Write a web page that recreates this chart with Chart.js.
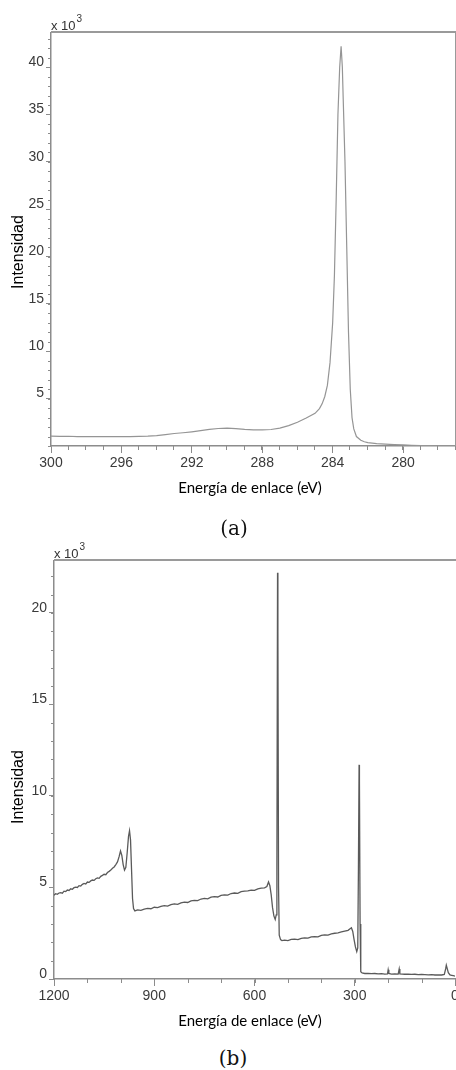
<!DOCTYPE html>
<html lang="es">
<head>
<meta charset="UTF-8">
<title>Espectros XPS</title>
<script src="https://cdn.jsdelivr.net/npm/chart.js"></script>
<style>
  body { margin: 0; background: #fff; }
  #page { position: relative; width: 456px; height: 1070px; overflow: hidden; background: #fff; }
  canvas { position: absolute; left: 0; }
  .caption { position: absolute; z-index: 2; font-family: "DejaVu Serif", serif; font-size: 20px; line-height: 24px; color: #111; transform: translateX(-50%); }
</style>
</head>
<body>
<div id="page">
  <canvas id="chartA" width="456" height="500" style="top:0"></canvas>
  <div class="caption" style="left:234px; top:516px">(a)</div>
  <canvas id="chartB" width="456" height="510" style="top:530px"></canvas>
  <div class="caption" style="left:233px; top:1046px">(b)</div>
</div>

<script>
    // (a) C 1s region - binding energy (eV) and intensity (x 10^3)
    const energyA = [300, 299.5, 299, 298.5, 298, 297.5, 297, 296.5, 296, 295.5, 295, 294.5, 294, 293.5, 293,
        292.5, 292, 291.5, 291, 290.5, 290, 289.5, 289, 288.5, 288, 287.5, 287, 286.5, 286, 285.5, 285,
        284.75, 284.6, 284.45, 284.3, 284.15, 284.0, 283.9, 283.8, 283.7, 283.6, 283.52, 283.45, 283.4, 283.3,
        283.2, 283.1, 283.0, 282.9, 282.8, 282.65, 282.4, 282.2, 282, 281.5, 281, 280.5, 280, 279.5, 279,
        278.5, 278, 277.5, 277];
    const countsA = [1.05, 1.02, 1.03, 1.0, 1.0, 0.98, 0.99, 0.98, 0.99, 1.0, 1.01, 1.04, 1.1, 1.2, 1.32,
        1.4, 1.5, 1.62, 1.75, 1.85, 1.88, 1.84, 1.76, 1.71, 1.7, 1.74, 1.88, 2.15, 2.5, 2.95, 3.45,
        3.95, 4.45, 5.2, 6.4, 8.8, 13, 18, 26, 35, 40, 42.2, 40, 36.6, 30,
        21, 12, 6, 3.0, 1.8, 1.0, 0.6, 0.45, 0.35, 0.25, 0.2, 0.15, 0.12, 0.08, 0.05,
        0.03, 0.02, 0.02, 0.02];

    // (b) survey spectrum
    const energyB = [1200, 1195, 1190, 1185, 1180, 1175, 1170, 1165, 1160, 1155, 1150, 1145, 1140, 1135, 1130,
        1125, 1120, 1115, 1110, 1105, 1100, 1095, 1090, 1085, 1080, 1075, 1070, 1065, 1060, 1055, 1050,
        1045, 1040, 1035, 1030, 1025, 1020, 1015, 1010, 1005, 1001, 997, 993, 989, 985, 981, 977, 974,
        971, 968, 965, 962, 958, 950, 940, 930, 920, 910, 900, 890, 880, 870, 860, 850, 840, 830, 820,
        810, 800, 790, 780, 770, 760, 750, 740, 730, 720, 710, 700, 690, 680, 670, 660, 650, 640, 630,
        620, 610, 600, 590, 580, 570, 563, 558, 554, 550, 546, 542, 538, 535, 533, 531, 530, 528, 526,
        522, 518, 510, 500, 490, 480, 470, 460, 450, 440, 430, 420, 410, 400, 390, 380, 370, 360, 350,
        340, 330, 320, 314, 310, 306, 302, 298, 294, 291, 289, 287, 286, 284, 282, 278, 270, 260, 250,
        240, 230, 220, 210, 202, 200, 198, 190, 180, 170, 167, 165, 150, 140, 130, 120, 110, 100, 90,
        80, 70, 60, 50, 40, 32, 28, 26, 23, 20, 15, 10, 5, 0];
    const countsB = [4.58, 4.66, 4.63, 4.70, 4.72, 4.69, 4.80, 4.78, 4.86, 4.84, 4.93, 4.90, 4.99, 5.02, 5.00,
        5.10, 5.08, 5.17, 5.22, 5.19, 5.30, 5.28, 5.36, 5.41, 5.39, 5.48, 5.52, 5.50, 5.61, 5.66, 5.72,
        5.70, 5.82, 5.88, 5.95, 6.05, 6.12, 6.25, 6.40, 6.70, 7.00, 6.75, 6.25, 5.95, 6.10, 6.90, 7.80, 8.10,
        7.60, 6.00, 4.40, 3.85, 3.72, 3.78, 3.75, 3.82, 3.86, 3.84, 3.92, 3.90, 3.97, 4.01, 3.98, 4.06, 4.10, 4.08, 4.16,
        4.20, 4.18, 4.27, 4.30, 4.28, 4.37, 4.40, 4.38, 4.47, 4.50, 4.48, 4.57, 4.60, 4.58, 4.67, 4.70, 4.68, 4.77, 4.80,
        4.82, 4.86, 4.84, 4.92, 4.96, 4.98, 5.05, 5.30, 5.10, 4.60, 3.90, 3.45, 3.25, 3.50, 6.0, 22.2, 19.0, 5.0, 2.40,
        2.15, 2.10, 2.12, 2.10, 2.16, 2.18, 2.15, 2.22, 2.25, 2.23, 2.30, 2.32, 2.30, 2.38, 2.41, 2.40, 2.47, 2.50, 2.52,
        2.57, 2.62, 2.66, 2.75, 2.80, 2.60, 2.15, 1.75, 1.50, 1.70, 6.0, 11.7, 10.8, 3.0, 0.40, 0.33, 0.30, 0.31, 0.29,
        0.30, 0.28, 0.29, 0.27, 0.28, 0.50, 0.30, 0.27, 0.28, 0.27, 0.55, 0.28, 0.26, 0.27, 0.25, 0.26, 0.24, 0.25, 0.24,
        0.23, 0.24, 0.22, 0.23, 0.22, 0.25, 0.55, 0.75, 0.55, 0.35, 0.22, 0.20, 0.18, 0.16];

    // axis ticks (labelled majors) and minor tick steps
    const xTicksA = [300, 296, 292, 288, 284, 280];
    const yTicksA = [5, 10, 15, 20, 25, 30, 35, 40];
    const xTicksB = [1200, 900, 600, 300, 0];
    const yTicksB = [0, 5, 10, 15, 20];

    const xTitle = "Energía de enlace (eV)";
    const yTitle = "Intensidad";

    const AXIS = "#8c8c8c";

    // Frame, minor ticks, "x 10^3" and axis titles
    const deco = {
        id: "deco",
        afterDraw(chart, args, opts) {
            const ctx = chart.ctx;
            const a = chart.chartArea;
            const sx = chart.scales.x, sy = chart.scales.y;
            ctx.save();

            // minor ticks
            ctx.strokeStyle = AXIS;
            ctx.lineWidth = 1;
            ctx.beginPath();
            for (let v = sx.min; v <= sx.max + 1e-6; v += opts.xMinor) {
                const px = Math.round(sx.getPixelForValue(v)) + 0.5;
                ctx.moveTo(px, a.bottom);
                ctx.lineTo(px, a.bottom + opts.xMinorLen);
            }
            for (let v = sy.min; v <= sy.max + 1e-6; v += opts.yMinor) {
                const py = Math.round(sy.getPixelForValue(v)) + 0.5;
                ctx.moveTo(a.left, py);
                ctx.lineTo(a.left - opts.yMinorLen, py);
            }
            ctx.stroke();

            // top frame (and right one for a)
            ctx.strokeStyle = "#9a9a9a";
            ctx.lineWidth = 2;
            ctx.beginPath();
            ctx.moveTo(a.left, a.top - 1);
            ctx.lineTo(chart.width, a.top - 1);
            ctx.stroke();
            if (opts.rightFrame) {
                ctx.lineWidth = 1;
                ctx.beginPath();
                ctx.moveTo(a.right + 0.5, a.top);
                ctx.lineTo(a.right + 0.5, a.bottom);
                ctx.stroke();
            }

            // x 10^3
            ctx.fillStyle = "#333";
            ctx.textBaseline = "alphabetic";
            ctx.textAlign = "left";
            ctx.font = "13px 'Liberation Sans'";
            ctx.fillText("x 10", a.left, a.top - 3);
            const w = ctx.measureText("x 10").width;
            ctx.font = "10px 'Liberation Sans'";
            ctx.fillText("3", a.left + w + 1, a.top - 11);

            // x title
            ctx.fillStyle = "#000";
            ctx.textAlign = "center";
            ctx.textBaseline = "middle";
            ctx.font = "15px Lato";
            ctx.fillText(xTitle, opts.xTitleX, a.bottom + 42);

            // y title
            ctx.translate(19, opts.yTitleY);
            ctx.rotate(-Math.PI / 2);
            ctx.font = "16px 'Liberation Sans'";
            ctx.fillText(yTitle, 0, 0);
            ctx.restore();
        }
    };

    function makeChart(id, cfg) {
        const tickFont = { family: "'Liberation Sans', Arial, sans-serif", size: 14 };
        return new Chart(document.getElementById(id), {
            type: "line",
            data: {
                datasets: [{
                    data: cfg.x.map((v, i) => ({ x: v, y: cfg.y[i] })),
                    borderColor: cfg.color,
                    borderWidth: cfg.lineWidth,
                    pointRadius: 0,
                    tension: 0
                }]
            },
            options: {
                responsive: false,
                animation: false,
                devicePixelRatio: 1,
                layout: { padding: { top: cfg.padTop, right: 1, left: 0, bottom: 0 } },
                plugins: {
                    legend: { display: false },
                    tooltip: { enabled: false },
                    deco: cfg.deco
                },
                scales: {
                    x: {
                        type: "linear",
                        reverse: true,
                        min: cfg.xMin,
                        max: cfg.xMax,
                        // fixed axis box, and let edge labels be clipped like in the original
                        afterFit: s => { s.height = cfg.xAxisH; s.paddingLeft = 0; s.paddingRight = 0; },
                        afterBuildTicks: s => { s.ticks = cfg.xTicks.map(v => ({ value: v })); },
                        border: { color: AXIS, width: 1.5 },
                        grid: { drawOnChartArea: false, tickLength: 7, color: AXIS },
                        ticks: { color: "#3a3a3a", font: tickFont, padding: 2, maxRotation: 0, autoSkip: false, callback: v => String(v) }
                    },
                    y: {
                        min: 0,
                        max: cfg.yMax,
                        afterFit: s => { s.width = cfg.yAxisW; s.paddingTop = 0; s.paddingBottom = 0; },
                        afterBuildTicks: s => { s.ticks = cfg.yTicks.map(v => ({ value: v })); },
                        border: { color: AXIS, width: 1.5 },
                        grid: { drawOnChartArea: false, tickLength: 5, color: AXIS },
                        ticks: { color: "#3a3a3a", font: tickFont, padding: 2, labelOffset: -5, autoSkip: false, callback: v => String(v) }
                    }
                }
            },
            plugins: [deco]
        });
    }

    makeChart("chartA", {
        x: energyA, y: countsA, color: "#959595", lineWidth: 1.2,
        xMin: 277.05, xMax: 300, yMax: 43.6,
        xTicks: xTicksA, yTicks: yTicksA,
        padTop: 33, xAxisH: 54, yAxisW: 51,
        deco: { xMinor: 1, yMinor: 1, xMinorLen: 4, yMinorLen: 3, rightFrame: true, xTitleX: 250, yTitleY: 252 }
    });

    makeChart("chartB", {
        x: energyB, y: countsB, color: "#5a5a5a", lineWidth: 1.3,
        xMin: 0, xMax: 1200, yMax: 22.84,
        xTicks: xTicksB, yTicks: yTicksB,
        padTop: 31, xAxisH: 61, yAxisW: 54,
        deco: { xMinor: 100, yMinor: 1, xMinorLen: 4, yMinorLen: 3, rightFrame: false, xTitleX: 250, yTitleY: 257 }
    });
</script>
</body>
</html>
